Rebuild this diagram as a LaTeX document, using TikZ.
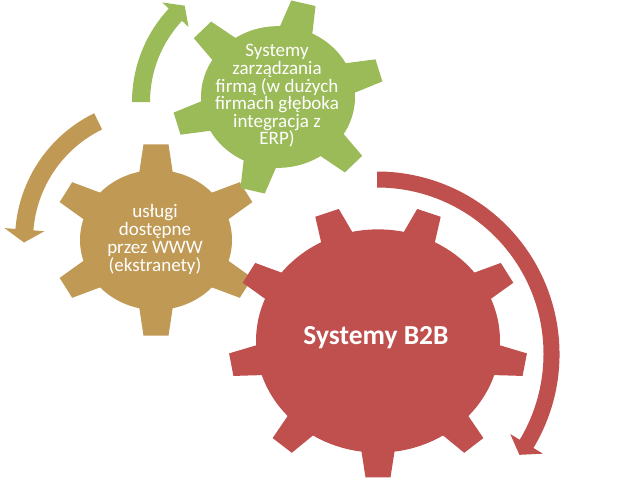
\documentclass[tikz,border=0pt]{standalone}
\usepackage{fontspec}
\setmainfont{Carlito}
\definecolor{gGreen}{HTML}{9BBB59}
\definecolor{gTan}{HTML}{C09A55}
\definecolor{gRed}{HTML}{C0504D}
% gear: color, cx, cy, yscale, teeth, rotation, outer R, body r
\newcommand{\mygear}[8]{%
  \begin{scope}[shift={(#2,#3)}, yscale=-#4]
    \fill[#1] (0,0) circle[radius=#8];
    \foreach \k in {1,...,#5}{
      \fill[#1, rotate={#6+360/#5*\k}] ({#8-8},-17.5) -- (#7,-12.5) -- (#7,12.5) -- ({#8-8},17.5) -- cycle;
    }
  \end{scope}}
% circular arrow: color, cx, cy, R, start angle, end angle, band width, head half width, tip angle
\newcommand{\myarrow}[9]{%
  \begin{scope}[shift={(#2,#3)}, yscale=-1]
    \fill[#1] ({#5}:{#4-#7/2}) arc[start angle=#5, end angle=#6, radius={#4-#7/2}]
      -- ({#6}:{#4-#8}) -- ({#9}:{#4}) -- ({#6}:{#4+#8}) -- ({#6}:{#4+#7/2})
      arc[start angle=#6, end angle=#5, radius={#4+#7/2}] -- cycle;
  \end{scope}}
\tikzset{geartext/.style={align=center, text=white, inner sep=0pt,
  font=\fontsize{19}{17.6}\selectfont}}
\begin{document}
\begin{tikzpicture}[x=1pt, y=-1pt]
\useasboundingbox (0,0) rectangle (617,484);
\fill[white] (0,0) rectangle (617,484);
% arrows
\myarrow{gTan}{156}{240}{132}{116}{175.5}{18}{20}{181.1}
\myarrow{gGreen}{269}{102}{128}{180}{137}{18}{18}{131.2}
\myarrow{gRed}{377}{354}{174.5}{90}{-31}{16}{19}{-35.3}
% gears
\mygear{gTan}{156}{240}{0.92}{6}{90}{104}{76}
\mygear{gGreen}{278}{97}{0.92}{6}{104}{105}{77}
\mygear{gRed}{378}{341}{0.915}{9}{90}{149}{122}
% texts
\node[geartext] (tG) at (277,96) {Systemy\\zarządzania\\firmą (w dużych\\firmach głęboka\\integracja z\\ERP)};
\node[geartext, font=\fontsize{19}{18}\selectfont] (tT) at (155,239) {usługi\\dostępne\\przez WWW\\(ekstranety)};
\node[geartext, font=\fontsize{27.5}{30}\selectfont\bfseries] (tR) at (376,338) {Systemy B2B};
\end{tikzpicture}
\end{document}
